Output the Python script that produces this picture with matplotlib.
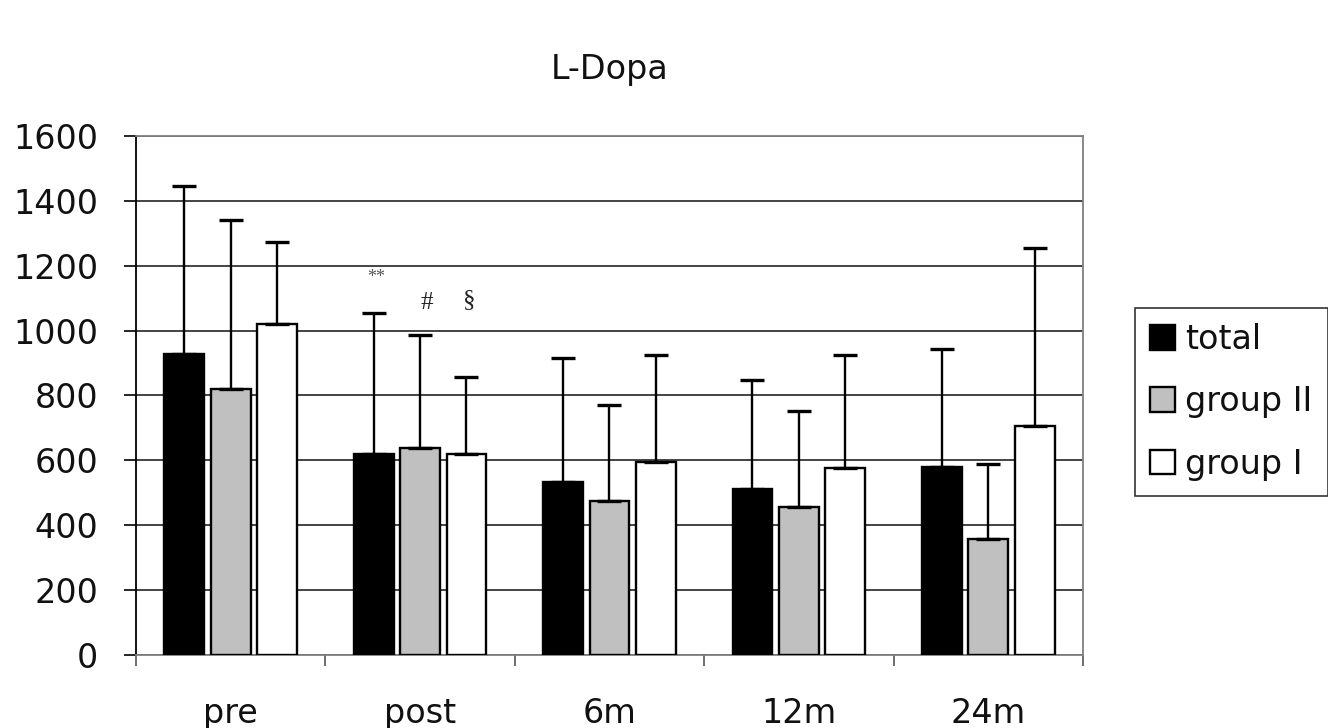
import matplotlib
matplotlib.use("Agg")
import matplotlib.pyplot as plt
import numpy as np
from matplotlib.patches import Patch

categories = ["pre", "post", "6m", "12m", "24m"]
series_names = ["total", "group II", "group I"]
total_mean = [927, 621, 534, 511, 580]
group2_mean = [821, 638, 474, 455, 359]
group1_mean = [1021, 619, 595, 577, 705]
total_sd = [520, 433, 382, 337, 363]
group2_sd = [521, 347, 296, 296, 229]
group1_sd = [251, 238, 330, 348, 549]
y_ticks = [0, 200, 400, 600, 800, 1000, 1200, 1400, 1600]
annotations = [("**", 1, -0.23, 1165), ("#", 1, 0.037, 1084), ("§", 1, 0.26, 1093)]

plt.rcParams['font.family'] = ['DejaVu Sans']

fig = plt.figure(figsize=(13.28, 7.28), dpi=100)
ax = fig.add_axes([0.1024, 0.1003, 0.7131, 0.7129])

x = np.arange(len(categories))
step = 0.245
width = 0.21
means = [total_mean, group2_mean, group1_mean]
sds = [total_sd, group2_sd, group1_sd]
colors = ["black", "#c0c0c0", "white"]
for i, (m, s, c) in enumerate(zip(means, sds, colors)):
    xs = x + (i - 1) * step
    ax.bar(xs, m, width=width, color=c, edgecolor="black", linewidth=1.7, zorder=3)
    ax.errorbar(xs, m, yerr=[np.zeros(len(m)), s], fmt="none", ecolor="black",
                elinewidth=1.7, capsize=8.5, capthick=2.4, zorder=4)

ax.set_ylim(0, 1600)
ax.set_xlim(-0.5, len(categories) - 0.5)
ax.set_yticks(y_ticks)
ax.yaxis.grid(True, color="#111111", linewidth=1.1, zorder=0)
ax.set_axisbelow(True)

ax.set_xticks(np.arange(len(categories) + 1) - 0.5)
ax.set_xticklabels([])
ax.set_xticks(x, minor=True)
ax.set_xticklabels(categories, minor=True)
ax.tick_params(axis="x", which="major", direction="out", length=8, width=1.2, color="#555555")
ax.tick_params(axis="x", which="minor", length=0, pad=30, labelsize=24, labelcolor="#111111")
ax.tick_params(axis="y", direction="out", length=9, width=1.2, pad=18, labelsize=24, labelcolor="#111111")

for sp in ["top", "right", "bottom"]:
    ax.spines[sp].set_color("#808080")
    ax.spines[sp].set_linewidth(1.3)
ax.spines["left"].set_color("black")
ax.spines["left"].set_linewidth(1.3)

for txt, gi, off, yv in annotations:
    fs = 13 if txt == "**" else 18
    col = "#555555" if txt == "**" else "#222222"
    ax.text(gi + off, yv, txt, ha="center", va="center", fontsize=fs, color=col,
            family=["Liberation Serif", "DejaVu Serif"], zorder=5)

fig.text(0.459, 0.905, "L-Dopa", ha="center", va="center", fontsize=24, color="#111111")

handles = [Patch(facecolor=c, edgecolor="black", linewidth=1.7) for c in colors]
leg = fig.legend(handles, series_names, loc="upper left", bbox_to_anchor=(0.855, 0.577),
                 fontsize=24, frameon=True, fancybox=False, handlelength=0.75,
                 handleheight=0.75, handletextpad=0.3, borderpad=0.45, labelspacing=0.88,
                 borderaxespad=0)
leg.get_frame().set_edgecolor("black")
leg.get_frame().set_linewidth(1.2)
for t in leg.get_texts():
    t.set_color("#111111")

fig.savefig("out.png", dpi=100)
